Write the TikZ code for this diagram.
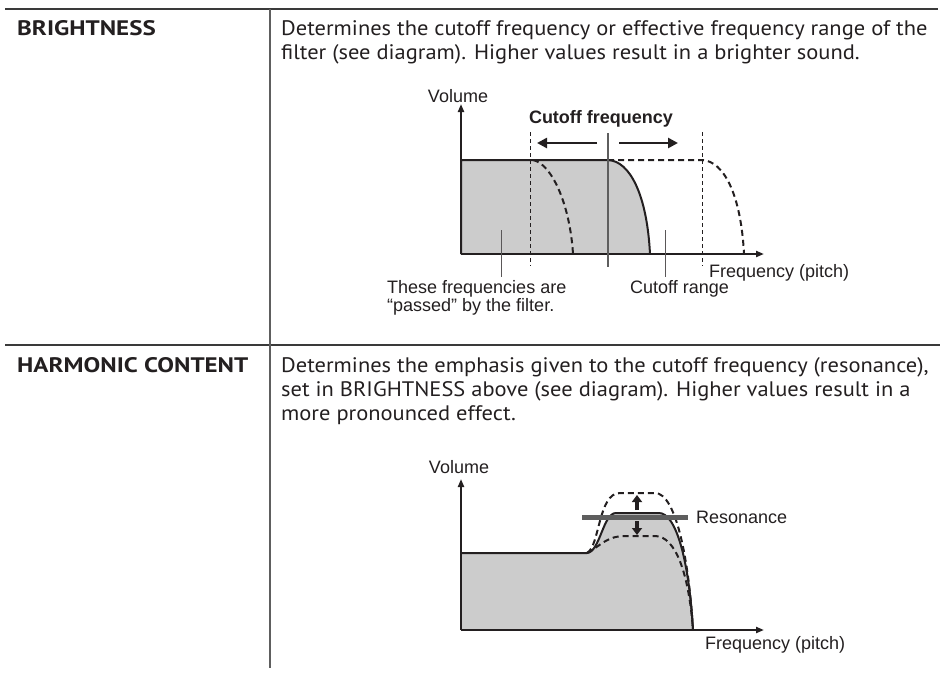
\documentclass[tikz,border=0pt]{standalone}
\usepackage{fontspec}
\setmainfont[FakeStretch=1.07]{PT Sans}
\newfontfamily\headfont[FakeStretch=1.19]{PT Sans}
\newfontfamily\labfont{Liberation Sans}
\usetikzlibrary{arrows.meta}
\definecolor{ink}{HTML}{231F20}
\definecolor{fillg}{HTML}{CCCCCC}
\definecolor{rulec}{HTML}{3A3A3A}
\definecolor{midg}{HTML}{5E5E5E}
\tikzset{
  bodytext/.style={anchor=base west, inner sep=0pt, text=ink, font=\fontsize{21}{24}\selectfont},
  headtext/.style={anchor=base west, inner sep=0pt, text=ink, font=\headfont\bfseries\fontsize{21}{24}\selectfont},
  lbl/.style={inner sep=0pt, text=ink, font=\labfont\fontsize{18}{18}\selectfont},
  axisline/.style={draw=ink, line width=2pt, -{Triangle[length=8pt,width=6pt]}},
  solidcurve/.style={draw=ink, line width=2pt},
  dashcurve/.style={draw=ink, line width=2pt, dash pattern=on 6pt off 4pt},
  guideline/.style={draw=ink, line width=0.8pt, dash pattern=on 4pt off 3pt},
  leaderline/.style={draw=ink!75, line width=0.8pt},
  movearrow/.style={draw=ink, line width=2.5pt, -{Triangle[length=10pt,width=10pt]}},
  resarrow/.style={draw=ink, line width=3.2pt, -{Triangle[length=7pt,width=10pt]}},
  markline/.style={draw=midg, line width=2.5pt},
  tablerule/.style={draw=rulec, line width=1.6pt},
  tablevert/.style={draw=midg, line width=1.2pt}
}
\begin{document}
\begin{tikzpicture}[x=1pt,y=-1pt]
\useasboundingbox (0,0) rectangle (940,673);

% ---------- table ----------
\coordinate (t1l) at (5,9);   \coordinate (t1r) at (938,9);
\coordinate (t2l) at (5,345); \coordinate (t2r) at (940,345);
\coordinate (vt) at (270,9);  \coordinate (vb) at (270,668);
\draw[tablerule] (t1l) -- (t1r);
\draw[tablerule] (t2l) -- (t2r);
\draw[tablevert] (vt) -- (vb);

\node[headtext] (h1) at (17,35) {BRIGHTNESS};
\node[bodytext] (b11) at (281,35) {Determines the cutoff frequency or effective frequency range of the};
\node[bodytext] (b12) at (281,59) {filter (see diagram). Higher values result in a brighter sound.};

\node[headtext] (h2) at (17,372) {HARMONIC CONTENT};
\node[bodytext] (b21) at (281,372) {Determines the emphasis given to the cutoff frequency (resonance),};
\node[bodytext] (b22) at (281,396) {set in BRIGHTNESS above (see diagram). Higher values result in a};
\node[bodytext] (b23) at (281,420) {more pronounced effect.};

% ---------- diagram 1 ----------
\coordinate (o1) at (461,254);
\coordinate (y1) at (461,104);
\coordinate (x1) at (764,254);
\fill[fillg] (461,254) -- (461,160) -- (608,160)
   .. controls (630,161) and (647,195) .. (650,254) -- cycle;
\draw[guideline] (530,132) -- (530,266);
\draw[guideline] (702,132) -- (702,266);
\draw[dashcurve] (533,160) .. controls (552,164) and (570,205) .. (573,254);
\draw[dashcurve] (608,160) -- (702,160) .. controls (724,161) and (741,195) .. (744,254);
\draw[solidcurve] (461,254) -- (461,160) -- (608,160)
   .. controls (630,161) and (647,195) .. (650,254);
\draw[axisline] (o1) -- (y1);
\draw[axisline] (o1) -- (x1);
\draw[markline] (608,133) -- (608,267);
\draw[movearrow] (597,143) -- (537,143);
\draw[movearrow] (619,143) -- (678,143);
\draw[leaderline] (501,230) -- (501,277);
\draw[leaderline] (665,230) -- (665,277);

\node[lbl, anchor=base] (vol1) at (458,102) {Volume};
\node[lbl, anchor=base, font=\labfont\bfseries\fontsize{18}{18}\selectfont] (cf) at (601,123) {Cutoff frequency};
\node[lbl, anchor=base west] (fp1) at (709,277) {Frequency (pitch)};
\node[lbl, anchor=base west] (pass1) at (387,293) {These frequencies are};
\node[lbl, anchor=base west] (pass2) at (387,311) {“passed” by the filter.};
\node[lbl, anchor=base west] (cr) at (630,293) {Cutoff range};

% ---------- diagram 2 ----------
\coordinate (o2) at (461,630);
\coordinate (y2) at (461,479);
\coordinate (x2) at (764,630);
\fill[fillg] (461,630) -- (461,553) -- (587,553)
   .. controls (600,552) and (603,513) .. (616,513) -- (659,513)
   .. controls (676,513) and (689,560) .. (693,630) -- cycle;
\draw[dashcurve] (587,553) .. controls (600,546) and (598,493) .. (620,493) -- (655,493)
   .. controls (676,493) and (689,560) .. (693,630);
\draw[dashcurve] (587,553) .. controls (603,544) and (607,536) .. (626,536) -- (655,536)
   .. controls (676,536) and (689,575) .. (693,630);
\draw[solidcurve] (461,553) -- (587,553)
   .. controls (600,552) and (603,513) .. (616,513) -- (659,513)
   .. controls (676,513) and (689,560) .. (693,630);
\draw[axisline] (o2) -- (y2);
\draw[axisline] (o2) -- (x2);
\draw[draw=midg, line width=5pt] (582,517) -- (688,517);
\draw[resarrow] (637,510) -- (637,495);
\draw[resarrow] (637,521) -- (637,535);

\node[lbl, anchor=base] (vol2) at (459,473) {Volume};
\node[lbl, anchor=west] (res) at (696,517) {Resonance};
\node[lbl, anchor=base west] (fp2) at (705,649) {Frequency (pitch)};
\end{tikzpicture}
\end{document}
